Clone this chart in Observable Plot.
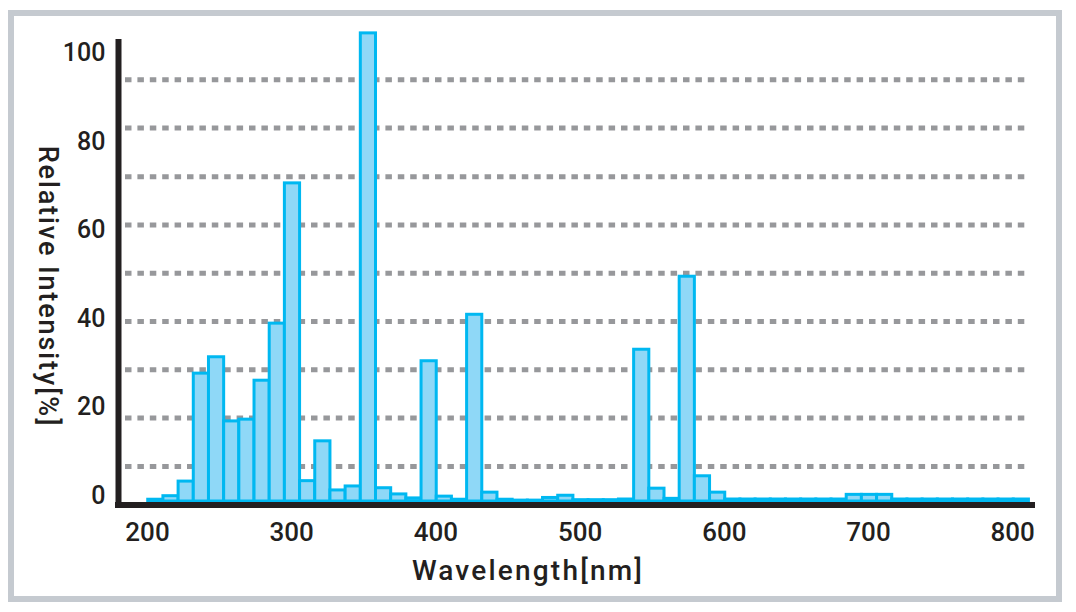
<!DOCTYPE html>
<html><head><meta charset="utf-8">
<script src="https://cdn.jsdelivr.net/npm/d3@7"></script>
<script src="https://cdn.jsdelivr.net/npm/@observablehq/plot@0.6"></script>
<style>
html,body{margin:0;padding:0;background:#fff;}
#wrap{position:relative;width:1076px;height:612px;overflow:hidden;background:#fff;}
#border{position:absolute;left:8px;top:10px;width:1042px;height:580px;border:6px solid #c5cad0;}
#chart{position:absolute;left:0;top:0;}
</style></head><body>
<div id="wrap"><div id="border"></div><div id="chart"></div></div>
<script>
// Relative intensity (%) of each 10-nm-wide bar, left to right
const intensities = [
  0.4, 1.2, 4.5, 28.9, 32.6, 18.1, 18.5, 27.3, 40.2, 71.9,
  4.6, 13.6, 2.5, 3.4, 105.8, 3.0, 1.6, 0.7, 31.7, 1.1,
  0.4, 42.2, 2.0, 0.4, 0.2, 0.2, 0.8, 1.3, 0.3, 0.3,
  0.3, 0.45, 34.3, 2.9, 0.6, 50.8, 5.7, 2.0, 0.45, 0.45,
  0.45, 0.45, 0.45, 0.45, 0.45, 0.45, 1.5, 1.5, 1.5, 0.45,
  0.45, 0.45, 0.45, 0.45, 0.45, 0.45, 0.45, 0.45
];
const binStart = 200.5;   // wavelength where first bar begins (as drawn)
const binWidth = 10.53;   // drawn width of each bar in axis units
const xTicks = [200, 300, 400, 500, 600, 700, 800];
const yTicks = [0, 20, 40, 60, 80, 100];
const gridValues = [7.9, 18.9, 29.8, 40.7, 51.6, 62.5, 73.4, 84.4, 95.3];
const xDomain = [177.8, 815.8];
const yDomain = [0, 106];
const xTitle = "Wavelength[nm]";
const yTitle = "Relative Intensity[%]";

const bars = intensities.map((v, i) => ({
  x1: binStart + i * binWidth,
  x2: binStart + (i + 1) * binWidth,
  v
}));

const ink = "#231f20";
const chart = Plot.plot({
  width: 1076, height: 612,
  marginLeft: 115, marginRight: 41, marginTop: 32, marginBottom: 111,
  x: {domain: xDomain},
  y: {domain: yDomain},
  style: {fontFamily: "Roboto, sans-serif", fontWeight: 500, background: "transparent", color: ink, overflow: "visible"},
  marks: [
    Plot.ruleY(gridValues, {stroke: "#97989b", strokeWidth: 5, strokeDasharray: "6.5,5.9", insetLeft: 10, insetRight: 7}),
    Plot.rectY(bars, {x1: "x1", x2: "x2", y: "v", fill: "#8fd8f7", stroke: "#00b8f1", strokeWidth: 3}),
    Plot.ruleX([xDomain[0]], {stroke: ink, strokeWidth: 6, dx: 3, insetTop: 7, insetBottom: -6}),
    Plot.ruleY([0], {stroke: ink, strokeWidth: 6, dy: 3.5}),
    Plot.axisX({ticks: xTicks, tickSize: 0, tickPadding: 21, fontSize: 26, label: null, fill: ink}),
    Plot.axisY({ticks: yTicks, tickSize: 0, tickPadding: 10, fontSize: 25, dy: -6, label: null, fill: ink}),
    Plot.text([yTitle], {text: d => d, frameAnchor: "left", textAnchor: "middle", lineAnchor: "middle", rotate: 90, dx: -68, dy: 19.5, fontSize: 27, fill: ink}),
    Plot.text([xTitle], {text: d => d, frameAnchor: "bottom", textAnchor: "middle", lineAnchor: "middle", dx: -47.5, dy: 70, fontSize: 28, fill: ink})
  ]
});
chart.querySelectorAll("text").forEach(t => {
  if (t.textContent === xTitle) t.setAttribute("letter-spacing", "2.2");
  if (t.textContent === yTitle) t.setAttribute("letter-spacing", "1.9");
});
document.getElementById("chart").appendChild(chart);
</script>
</body></html>
